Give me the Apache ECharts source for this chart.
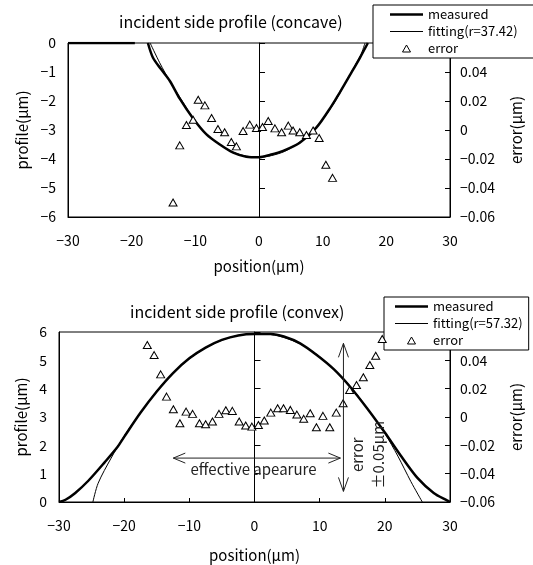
<!DOCTYPE html>
<html>
<head>
<meta charset="utf-8">
<script src="https://cdn.jsdelivr.net/npm/echarts@6/dist/echarts.min.js"></script>
<style>
  html, body { margin: 0; padding: 0; background: #fff; }
  #main { width: 533px; height: 565px; }
</style>
</head>
<body>
<div id="main"></div>
<script>
// concave (top) chart
const concaveMeasuredX = [-30, -19.5, -18.5, -17.45, -16.65, -15.4, -14.0, -12.45, -10.35, -8.25, -6.15, -4.05, -2.0, 0, 1.7, 3.8, 6.4, 9.0, 11.4, 12.7, 14.3, 15.85, 17.1];
const concaveMeasuredY = [0, 0, '-', 0, -0.51, -0.9, -1.31, -1.92, -2.6, -3.15, -3.5, -3.78, -3.92, -3.94, -3.86, -3.72, -3.44, -2.92, -2.17, -1.7, -1.1, -0.51, 0];
const concaveFitX = [-17.1, -15.6, -14, -12, -10, -8, -6, -4, -2, 0, 2, 4, 6, 8, 10, 12, 14, 16, 16.65];
const concaveFitY = [0, -0.68, -1.32, -2.02, -2.7, -3.2, -3.53, -3.77, -3.9, -3.94, -3.88, -3.74, -3.48, -3.12, -2.64, -2.0, -1.2, -0.4, 0];
const concaveErrX = [-13.5, -12.45, -11.4, -10.35, -9.55, -8.5, -7.45, -6.45, -5.4, -4.35, -3.55, -2.5, -1.45, -0.4, 0.55, 1.45, 2.5, 3.55, 4.6, 5.35, 6.4, 7.45, 8.5, 9.45, 10.5, 11.55];
const concaveErrY = [-0.050, -0.0106, 0.0034, 0.0071, 0.0209, 0.017, 0.0083, 0.0007, -0.0016, -0.0083, -0.0113, -0.0007, 0.0037, 0.0014, 0.0021, 0.0062, 0.0011, -0.0016, 0.003, -0.0003, -0.0016, -0.0035, -0.0003, -0.0055, -0.024, -0.033];

// convex (bottom) chart
const convexMeasuredX = [-30, -29, -27.5, -25.5, -23, -21, -20, -17.5, -15, -12.5, -10, -7.5, -5, -2.5, 0, 2.5, 4.5, 7, 9.6, 12.2, 14.7, 17.3, 20, 22.4, 25, 27.5, 29.6, 30];
const convexMeasuredY = [0, 0.08, 0.32, 0.75, 1.4, 1.95, 2.3, 3.15, 3.9, 4.55, 5.07, 5.45, 5.72, 5.88, 5.93, 5.93, 5.84, 5.6, 5.18, 4.68, 4.06, 3.3, 2.45, 1.65, 0.85, 0.32, 0.05, 0];
const convexFitX = [-24.8, -24, -22, -20, -17.5, -15, -12.5, -10, -7.5, -5, -2.5, 0, 2.5, 5, 7.5, 10, 12.5, 15, 17.5, 20, 22, 24, 25.75];
const convexFitY = [0, 0.66, 1.55, 2.33, 3.15, 3.92, 4.55, 5.05, 5.44, 5.71, 5.88, 5.93, 5.91, 5.77, 5.52, 5.13, 4.62, 4.0, 3.25, 2.42, 1.62, 0.72, 0];
const convexErrX = [-16.45, -15.4, -14.4, -13.5, -12.45, -11.45, -10.5, -9.5, -8.45, -7.5, -6.45, -5.45, -4.4, -3.4, -2.35, -1.35, -0.4, 0.6, 1.5, 2.5, 3.55, 4.45, 5.5, 6.5, 7.55, 8.55, 9.5, 10.5, 11.55, 12.55, 13.6, 14.6, 15.65, 16.7, 17.7, 18.6, 19.6];
const convexErrY = [0.0508, 0.0437, 0.0301, 0.0144, 0.0055, -0.0044, 0.0038, 0.0022, -0.0044, -0.0051, -0.0032, 0.0022, 0.0048, 0.0043, -0.0032, -0.006, -0.0068, -0.0056, -0.0025, 0.0031, 0.0062, 0.0062, 0.005, 0.0017, -0.0013, 0.0027, -0.0072, 0.0008, -0.0072, 0.0031, 0.0097, 0.0191, 0.0226, 0.028, 0.0367, 0.0432, 0.055];

// annotation positions (data coords of the bottom chart)
const apertureRange = [-12.46, 13.18];   // x, at profile 1.55
const apertureLevel = 1.55;
const errorBarX = 13.65;
const errorBarRange = [-0.0525, 0.052];  // on error axis

const FONT = '"Noto Sans CJK JP", "Noto Sans", sans-serif';

const zip = (xs, ys) => xs.map((x, i) => [x, ys[i]]);
const minus = s => String(s).replace('-', '\u2212');

function xAxisOf(gridIndex, showTick, nameGap) {
    return {
        type: 'value', gridIndex: gridIndex,
        min: -30, max: 30, interval: 10,
        name: 'position(μm)', nameLocation: 'middle', nameGap: nameGap,
        nameTextStyle: { fontSize: 15, color: '#000', fontFamily: FONT },
        axisLine: { onZero: false, lineStyle: { color: '#000', width: 1 } },
        axisTick: { show: showTick, inside: true, length: 4, lineStyle: { color: '#000' } },
        axisLabel: { margin: 17, fontSize: 14, color: '#000', fontFamily: FONT, formatter: minus },
        splitLine: { show: false }
    };
}

function yAxesOf(gridIndex, min, max, nameGap) {
    return [
        {   // left profile axis (labels only)
            type: 'value', gridIndex: gridIndex, position: 'left',
            min: min, max: max, interval: 1,
            name: 'profile(μm)', nameLocation: 'middle', nameGap: nameGap, nameRotate: 90,
            nameTextStyle: { fontSize: 15, color: '#000', fontFamily: FONT },
            axisLine: { show: true, onZero: false, lineStyle: { color: '#000' } },
            axisTick: { show: false },
            axisLabel: { margin: 12, fontSize: 14, color: '#000', fontFamily: FONT, formatter: minus },
            splitLine: { show: false }
        },
        {   // center line at x = 0 with ticks
            type: 'value', gridIndex: gridIndex, position: 'left',
            min: min, max: max, interval: 1,
            axisLine: { show: true, onZero: true, lineStyle: { color: '#000' } },
            axisTick: { show: true, inside: true, length: 6, lineStyle: { color: '#000' } },
            axisLabel: { show: false },
            splitLine: { show: false }
        },
        {   // right error axis
            type: 'value', gridIndex: gridIndex, position: 'right',
            min: -0.06, max: 0.06, interval: 0.02,
            name: 'error(μm)', nameLocation: 'middle', nameGap: 59, nameRotate: 90,
            nameTextStyle: { fontSize: 15, color: '#000', fontFamily: FONT },
            axisLine: { show: true, onZero: false, lineStyle: { color: '#000' } },
            axisTick: { show: true, inside: true, length: 5, lineStyle: { color: '#000' } },
            axisLabel: {
                margin: 10, fontSize: 14, color: '#000', fontFamily: FONT,
                formatter: v => (Math.abs(v) < 1e-9 ? '0' : minus(v.toFixed(2)))
            },
            splitLine: { show: false }
        }
    ];
}

function legendOf(left, top, padding, names) {
    return {
        orient: 'vertical', left: left, top: top, padding: padding,
        itemGap: 4, itemWidth: 33, itemHeight: 7,
        backgroundColor: '#fff', borderColor: '#000', borderWidth: 1, borderRadius: 0,
        textStyle: { fontSize: 13, color: '#000', fontFamily: FONT },
        data: [
            { name: names[0], icon: 'path://M0,0H33V2.6H0Z' },
            { name: names[1], icon: 'path://M0,0H33V1H0Z' },
            { name: names[2], icon: 'path://M4,0L8,7L0,7Z', itemStyle: { borderWidth: 1 } }
        ]
    };
}

function seriesOf(xi, yi, measured, fit, err, fitName) {
    return [
        {
            name: 'measured', type: 'line', xAxisIndex: xi, yAxisIndex: yi,
            data: measured, symbol: 'none', smooth: 0.3, z: 3,
            lineStyle: { color: '#000', width: 2.5 }, itemStyle: { color: '#000' }
        },
        {
            name: fitName, type: 'line', xAxisIndex: xi, yAxisIndex: yi,
            data: fit, symbol: 'none', smooth: 0.3, z: 2,
            lineStyle: { color: '#000', width: 1 }, itemStyle: { color: '#000' }
        },
        {
            name: 'error', type: 'scatter', xAxisIndex: xi, yAxisIndex: yi + 2,
            data: err, symbol: 'triangle', symbolSize: [8, 7], z: 4,
            itemStyle: { color: '#fff', borderColor: '#000', borderWidth: 1, opacity: 1 }
        }
    ];
}

const chart = echarts.init(document.getElementById('main'), null, { renderer: 'canvas' });

const option = {
    backgroundColor: '#fff',
    animation: false,
    textStyle: { fontFamily: FONT },
    title: [
        { text: 'incident side profile (concave)', left: 119, top: 14, padding: 0,
          textStyle: { fontSize: 16, fontWeight: 'normal', color: '#000', fontFamily: FONT } },
        { text: 'incident side profile (convex)', left: 130, top: 304, padding: 0,
          textStyle: { fontSize: 16, fontWeight: 'normal', color: '#000', fontFamily: FONT } }
    ],
    legend: [
        legendOf(373, 5, [3, 40, 3, 17], ['measured', 'fitting(r=37.42)', 'error']),
        legendOf(384, 297, [3, 6, 3, 11], ['measured', 'fitting(r=57.32)', 'error'])
    ],
    grid: [
        { left: 68, top: 43, width: 382, height: 174, show: true, borderColor: '#000', borderWidth: 1, backgroundColor: 'transparent' },
        { left: 59, top: 332, width: 391, height: 170, show: true, borderColor: '#000', borderWidth: 1, backgroundColor: 'transparent' }
    ],
    xAxis: [xAxisOf(0, false, 42), xAxisOf(1, true, 46)],
    yAxis: [].concat(yAxesOf(0, -6, 0, 38), yAxesOf(1, 0, 6, 29)),
    series: [].concat(
        seriesOf(0, 0, zip(concaveMeasuredX, concaveMeasuredY), zip(concaveFitX, concaveFitY), zip(concaveErrX, concaveErrY), 'fitting(r=37.42)'),
        seriesOf(1, 3, zip(convexMeasuredX, convexMeasuredY), zip(convexFitX, convexFitY), zip(convexErrX, convexErrY), 'fitting(r=57.32)')
    )
};

chart.setOption(option);

// annotations for the convex chart, placed through the chart's own axes
const toPx = (yi, p) => chart.convertToPixel({ xAxisIndex: 1, yAxisIndex: yi }, p);
const stroke = { stroke: '#222', lineWidth: 1, fill: null };

function chevron(tip, dx, dy, len, half) {
    // dx,dy: unit vector pointing from the tip back into the shaft
    return [
        [tip[0] + dx * len - dy * half, tip[1] + dy * len + dx * half],
        tip,
        [tip[0] + dx * len + dy * half, tip[1] + dy * len - dx * half]
    ];
}

const aL = toPx(3, [apertureRange[0], apertureLevel]);
const aR = toPx(3, [apertureRange[1], apertureLevel]);
const eT = toPx(5, [errorBarX, errorBarRange[1]]);
const eB = toPx(5, [errorBarX, errorBarRange[0]]);
const apText = toPx(3, [-0.15, 1.14]);
const errText = toPx(3, [17.4, 1.67]);

chart.setOption({
    graphic: [
        { type: 'line', shape: { x1: aL[0], y1: aL[1], x2: aR[0], y2: aR[1] }, style: stroke, z: 10 },
        { type: 'polyline', shape: { points: chevron(aL, 1, 0, 12, 5) }, style: stroke, z: 10 },
        { type: 'polyline', shape: { points: chevron(aR, -1, 0, 12, 5) }, style: stroke, z: 10 },
        { type: 'line', shape: { x1: eT[0], y1: eT[1], x2: eB[0], y2: eB[1] }, style: stroke, z: 10 },
        { type: 'polyline', shape: { points: chevron(eT, 0, 1, 14, 5) }, style: stroke, z: 10 },
        { type: 'polyline', shape: { points: chevron(eB, 0, -1, 14, 5) }, style: stroke, z: 10 },
        {
            type: 'text', x: apText[0], y: apText[1], z: 10,
            style: { text: 'effective apearure', font: '15px ' + FONT, fill: '#222', align: 'center', verticalAlign: 'middle' }
        },
        {
            type: 'text', x: errText[0], y: errText[1], rotation: Math.PI / 2, z: 10,
            style: { text: 'error\n±0.05μm', font: '15px ' + FONT, fill: '#222', align: 'center', verticalAlign: 'middle', lineHeight: 21 }
        }
    ]
});
</script>
</body>
</html>
